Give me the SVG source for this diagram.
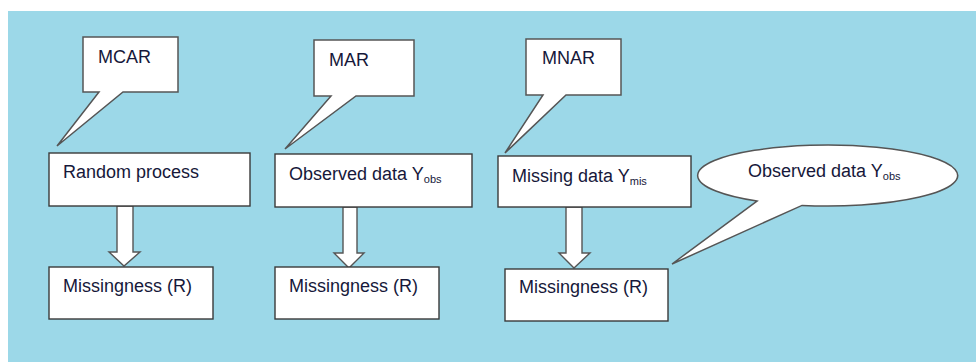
<svg xmlns="http://www.w3.org/2000/svg" width="976" height="362" viewBox="0 0 976 362">
<style>
.box{fill:#fff;stroke:#3a3a3a;stroke-width:1.4}
.call{fill:#fff;stroke:#555;stroke-width:1.5;stroke-linejoin:miter}
.arr{fill:#fff;stroke:#555;stroke-width:1.4}
text{font-family:"Liberation Sans",Arial,sans-serif;font-size:18px;fill:#16183a}
.sub{font-size:11px}
</style>
<rect x="0" y="0" width="976" height="362" fill="#fff"/>
<rect x="8" y="11" width="968" height="351" fill="#9cd8e8"/>
<g id="connectors">
<path class="arr" d="M117,206 V252 H109 L124,266 L140,252 H133 V206 Z"/>
<path class="arr" d="M343,207 V253 H334 L349,268 L364,253 H357 V207 Z"/>
<path class="arr" d="M566,207 V253 H559 L574,268 L590,253 H582 V207 Z"/>
</g>
<g id="callout-mcar">
<path class="call" d="M83,37 H178 V92 H123 L57,146 L99,92 H83 Z"/>
<text x="98" y="63">MCAR</text>
</g>
<g id="callout-mar">
<path class="call" d="M314,40 H414 V96 H356 L285,149 L331,96 H314 Z"/>
<text x="329" y="66">MAR</text>
</g>
<g id="callout-mnar">
<path class="call" d="M526,39 H621 V95 H566 L505,153 L543,95 H526 Z"/>
<text x="542" y="64">MNAR</text>
</g>
<g id="callout-observed">
<path class="call" d="M757,201.1 L672,264 L802,205.4 A130,30.5 0 1 0 757,201.1 Z"/>
<text x="748" y="177">Observed data Y<tspan class="sub" dy="3">obs</tspan></text>
</g>
<g id="random-process">
<rect class="box" x="49" y="153" width="201" height="53"/>
<text x="63" y="178">Random process</text>
</g>
<g id="observed-data">
<rect class="box" x="275" y="154" width="197" height="53"/>
<text x="289" y="180">Observed data Y<tspan class="sub" dy="3">obs</tspan></text>
</g>
<g id="missing-data">
<rect class="box" x="498" y="156" width="193" height="51"/>
<text x="512" y="182">Missing data Y<tspan class="sub" dy="3">mis</tspan></text>
</g>
<g id="missingness-1">
<rect class="box" x="49" y="267" width="164" height="52"/>
<text x="63" y="292">Missingness (R)</text>
</g>
<g id="missingness-2">
<rect class="box" x="275" y="267" width="164" height="52"/>
<text x="289" y="292">Missingness (R)</text>
</g>
<g id="missingness-3">
<rect class="box" x="505" y="269" width="163" height="52"/>
<text x="519" y="293">Missingness (R)</text>
</g>
</svg>
